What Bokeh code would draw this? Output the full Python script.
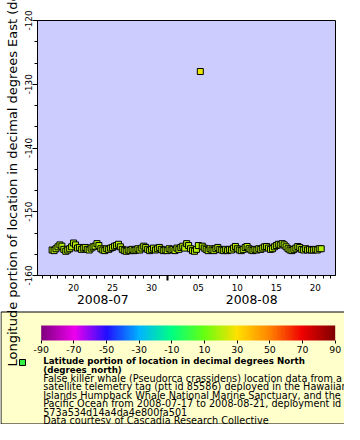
import math
import numpy as np
import pandas as pd
from bokeh.plotting import figure
from bokeh.layouts import column
from bokeh.models import (ColumnDataSource, Range1d, DatetimeAxis, FixedTicker,
                          SingleIntervalTicker, DatetimeTickFormatter, PrintfTickFormatter,
                          LinearColorMapper, ColorBar, Title)
from bokeh.core.properties import value
from bokeh.embed import file_html
from bokeh.resources import INLINE

# ---------------- data ----------------
start_time = "2008-07-17 06:00"   # first fix; fixes every 6 hours
step = "6h"

lon_by_day = [
    [-156.0, -156.1, -155.8],            # Jul 17 (06,12,18h)
    [-155.5, -155.2, -155.4, -155.9],    # Jul 18
    [-156.2, -156.0, -155.8, -155.5],    # Jul 19
    [-154.9, -155.2, -155.7, -155.6],    # Jul 20
    [-155.9, -155.7, -155.6, -155.9],    # Jul 21
    [-156.0, -155.7, -155.5, -155.4],    # Jul 22
    [-155.0, -155.3, -155.8, -156.0],    # Jul 23
    [-156.1, -155.8, -155.9, -155.7],    # Jul 24
    [-155.6, -155.4, -155.3, -155.1],    # Jul 25
    [-155.5, -155.9, -156.1, -156.2],    # Jul 26
    [-156.0, -156.1, -155.9, -156.1],    # Jul 27
    [-156.0, -155.8, -156.0, -155.7],    # Jul 28
    [-155.4, -155.6, -155.9, -156.1],    # Jul 29
    [-155.9, -155.7, -156.0, -155.8],    # Jul 30
    [-155.6, -155.9, -156.1, -156.0],    # Jul 31
    [-156.1, -155.8, -156.0, -155.9],    # Aug 1
    [-156.1, -155.7, -155.9, -155.6],    # Aug 2
    [-155.4, -155.7, -155.0, -155.3],    # Aug 3
    [-155.8, -156.1, -156.2, -155.9],    # Aug 4
    [-155.3, -128.0, -155.4, -155.7],    # Aug 5
    [-155.9, -156.1, -155.8, -156.0],    # Aug 6
    [-156.1, -155.8, -155.6, -155.9],    # Aug 7
    [-156.0, -156.1, -155.9, -156.1],    # Aug 8
    [-155.9, -156.0, -155.7, -155.45],   # Aug 9
    [-155.8, -156.0, -156.1, -155.9],    # Aug 10
    [-155.6, -155.45, -155.8, -156.0],   # Aug 11
    [-156.1, -155.9, -156.0, -155.8],    # Aug 12
    [-155.9, -155.7, -155.5, -155.45],   # Aug 13
    [-155.7, -155.9, -155.8, -155.5],    # Aug 14
    [-155.3, -155.1, -155.2, -155.0],    # Aug 15
    [-155.2, -155.5, -155.8, -156.0],    # Aug 16
    [-156.1, -155.9, -155.7, -155.45],   # Aug 17
    [-155.6, -155.9, -156.0, -155.8],    # Aug 18
    [-156.0, -155.9, -156.0, -156.0],    # Aug 19
    [-155.9, -156.0, -155.8, -155.8],    # Aug 20
]

lat_by_day = [
    [19.62, 19.58, 19.55],
    [19.50, 19.47, 19.52, 19.58],
    [19.63, 19.60, 19.55, 19.49],
    [19.42, 19.45, 19.53, 19.57],
    [19.60, 19.56, 19.52, 19.58],
    [19.64, 19.59, 19.51, 19.46],
    [19.40, 19.44, 19.52, 19.58],
    [19.62, 19.57, 19.60, 19.54],
    [19.50, 19.46, 19.44, 19.41],
    [19.47, 19.55, 19.61, 19.66],
    [19.63, 19.65, 19.58, 19.62],
    [19.60, 19.55, 19.59, 19.52],
    [19.45, 19.49, 19.56, 19.61],
    [19.58, 19.53, 19.60, 19.55],
    [19.50, 19.57, 19.63, 19.60],
    [19.62, 19.56, 19.59, 19.57],
    [19.63, 19.54, 19.58, 19.51],
    [19.46, 19.52, 19.40, 19.45],
    [19.55, 19.62, 19.66, 19.59],
    [19.47, 26.80, 19.48, 19.54],
    [19.58, 19.63, 19.56, 19.60],
    [19.62, 19.56, 19.52, 19.58],
    [19.60, 19.63, 19.58, 19.62],
    [19.58, 19.61, 19.54, 19.49],
    [19.56, 19.60, 19.63, 19.58],
    [19.52, 19.48, 19.55, 19.60],
    [19.63, 19.58, 19.61, 19.56],
    [19.58, 19.54, 19.50, 19.48],
    [19.53, 19.58, 19.55, 19.50],
    [19.45, 19.41, 19.43, 19.39],
    [19.42, 19.48, 19.55, 19.60],
    [19.63, 19.58, 19.54, 19.49],
    [19.51, 19.57, 19.60, 19.56],
    [19.60, 19.58, 19.61, 19.60],
    [19.58, 19.60, 19.56, 19.55],
]

x_start = "2008-07-15 09:00"
x_end = "2008-08-22 14:00"
y_start, y_end = -160, -120

day_label_dates = ["2008-07-20", "2008-07-25", "2008-07-30",
                   "2008-08-05", "2008-08-10", "2008-08-15", "2008-08-20"]
month_break = "2008-08-01"
month_label_dates = ["2008-07-23 18:00", "2008-08-11 20:00"]
minor_first, minor_last = "2008-07-16", "2008-08-22"

cb_ticks = [-90, -70, -50, -30, -10, 10, 30, 50, 70, 90]
cb_colors = ["#800080", "#ee00ee", "#2010ff", "#00b4ff", "#00ff80",
             "#66ff10", "#ffe000", "#ff8400", "#f00000", "#800000"]

y_title = "Longitude portion of location in decimal degrees East (degrees_east)"
legend_bold = ["Latitude portion of location in decimal degrees North",
               "(degrees_north)"]
legend_lines = [
    "False killer whale (Pseudorca crassidens) location data from a",
    "satellite telemetry tag (ptt id 85586) deployed in the Hawaiian",
    "Islands Humpback Whale National Marine Sanctuary, and the North",
    "Pacific Ocean from 2008-07-17 to 2008-08-21, deployment id",
    "573a534d14a4da4e800fa501",
    "Data courtesy of Cascadia Research Collective",
]

# ---------------- build ----------------
FONT = "DejaVu Sans"
lon = [v for d in lon_by_day for v in d]
lat = [v for d in lat_by_day for v in d]
times = pd.date_range(start_time, periods=len(lon), freq=step)
src = ColumnDataSource(dict(t=times, lon=lon, lat=lat))


def ms(s):
    return pd.Timestamp(s).value / 1e6


def hex2rgb(h):
    return [int(h[i:i + 2], 16) for i in (1, 3, 5)]


rgb = np.array([hex2rgb(c) for c in cb_colors], dtype=float)
pal = []
for g in np.linspace(-90, 90, 181):
    r, gg, b = (np.interp(g, cb_ticks, rgb[:, k]) for k in range(3))
    pal.append("#%02x%02x%02x" % (int(round(r)), int(round(gg)), int(round(b))))
mapper = LinearColorMapper(palette=pal, low=-90, high=90)

W = 344
H1, H2 = 310, 114
FL, FT, FR, FB = 37, 20, 335, 275   # frame edges (pixels) of the main plot
TITLE_START = 366                   # where the long y title begins (global px)

p = figure(width=W, height=H1, output_backend="svg", toolbar_location=None,
           x_axis_type="datetime",
           x_range=Range1d(pd.Timestamp(x_start), pd.Timestamp(x_end)),
           y_range=Range1d(y_start, y_end),
           min_border_left=FL, min_border_right=W - FR,
           min_border_top=FT, min_border_bottom=H1 - FB)
p.frame_align = False
p.background_fill_color = "#ccccff"
p.border_fill_color = "white"
p.outline_line_color = "black"
p.outline_line_alpha = 1
p.xgrid.visible = False
p.ygrid.visible = False


def fmt(f):
    return DatetimeTickFormatter(microseconds=f, milliseconds=f, seconds=f,
                                 minsec=f, minutes=f, hourmin=f, hours=f,
                                 days=f, months=f, years=f)


# axis A: daily minor ticks + thick month-break tick
ax = p.xaxis[0]
minor_days = pd.date_range(minor_first, minor_last, freq="1D")
ax.ticker = FixedTicker(ticks=[ms(month_break)],
                        minor_ticks=[ms(d) for d in minor_days])
ax.axis_line_color = "black"
ax.major_tick_line_color = "black"
ax.major_tick_line_width = 2
ax.major_tick_out = 5
ax.major_tick_in = 0
ax.minor_tick_line_color = "black"
ax.minor_tick_out = 3
ax.minor_tick_in = 0
ax.major_label_overrides = {ms(month_break): ""}
ax.major_label_text_font_size = "1px"
ax.major_label_standoff = 0

# axis B: day labels
axB = DatetimeAxis(ticker=FixedTicker(ticks=[ms(d) for d in day_label_dates], minor_ticks=[]),
                   formatter=fmt("%d"), axis_line_color=None,
                   major_tick_line_color=None, minor_tick_line_color=None,
                   major_tick_out=0, major_tick_in=0, minor_tick_out=0, minor_tick_in=0,
                   major_label_standoff=3, major_label_text_font_size="8.8px",
                   major_label_text_font=FONT, major_label_text_color="black")
p.add_layout(axB, "below")

# axis C: month labels
axC = DatetimeAxis(ticker=FixedTicker(ticks=[ms(d) for d in month_label_dates], minor_ticks=[]),
                   formatter=fmt("%Y-%m"), axis_line_color=None,
                   major_tick_line_color=None, minor_tick_line_color=None,
                   major_tick_out=0, major_tick_in=0, minor_tick_out=0, minor_tick_in=0,
                   major_label_standoff=1, major_label_text_font_size="12.4px",
                   major_label_text_font=FONT, major_label_text_color="black")
p.add_layout(axC, "below")

# y axis
ya = p.yaxis[0]
ya.ticker = SingleIntervalTicker(interval=10, num_minor_ticks=3)
ya.formatter = PrintfTickFormatter(format="%d")
ya.axis_line_color = "black"
ya.major_tick_line_color = "black"
ya.minor_tick_line_color = "black"
ya.major_tick_out = 5
ya.major_tick_in = 0
ya.minor_tick_out = 3
ya.minor_tick_in = 0
ya.major_label_orientation = "vertical"
ya.major_label_standoff = 1
ya.major_label_text_font = FONT
ya.major_label_text_font_size = "8.8px"
ya.major_label_text_color = "black"

# y axis title (long, runs below the plot as in the original)
p.add_layout(Title(text=y_title, align="left", offset=FB - TITLE_START, standoff=4,
                   vertical_align="bottom",
                   text_font=FONT, text_font_size="13px", text_font_style="normal",
                   text_color="black"), "left")

# data
p.scatter(x="t", y="lon", source=src, marker="square", size=6,
          fill_color={"field": "lat", "transform": mapper},
          line_color="black", line_width=1)

# ---------------- legend panel ----------------
p2 = figure(width=W, height=H2, output_backend="svg", toolbar_location=None,
            x_range=Range1d(0, W), y_range=Range1d(H2, 0),
            min_border=0, x_axis_location=None, y_axis_location=None)
p2.frame_align = False
p2.xgrid.visible = False
p2.ygrid.visible = False
p2.outline_line_color = None
p2.background_fill_color = "white"
p2.border_fill_color = "white"

p2.quad(left=0.5, right=W + 20, top=1.5, bottom=H2 - 0.5,
        fill_color="#ffffcc", line_color="black", line_width=1)

cb = ColorBar(color_mapper=mapper, orientation="horizontal",
              location=(40.7, H2 - 45), width=294, height=15,
              padding=0, margin=0,
              ticker=FixedTicker(ticks=cb_ticks),
              formatter=PrintfTickFormatter(format="%d"),
              major_tick_out=3, major_tick_in=0, major_tick_line_color="black",
              minor_tick_line_color=None, label_standoff=2,
              major_label_text_font=FONT, major_label_text_font_size="9.4px",
              major_label_text_color="black",
              bar_line_color=None, border_line_color=None,
              background_fill_color=None)
p2.add_layout(cb)

p2.scatter(x=[22], y=[52], marker="square", size=6, fill_color="#33ee44",
           line_color="black", line_width=1)

p2.text(x=[42.7] * 2, y=[50.8, 59.3], text=legend_bold,
        text_font=value(FONT), text_font_style="bold", text_font_size=value("8.7px"),
        text_baseline="middle", text_align="left", text_color="black")
p2.text(x=[42.7] * 6, y=[67.8, 76.3, 84.8, 93.3, 101.8, 110.2], text=legend_lines,
        text_font=value(FONT), text_font_size=value("9.7px"),
        text_baseline="middle", text_align="left", text_color="black")

# continuation of the y-axis title into the legend area
p2.text(x=[19], y=[TITLE_START - H1], text=[y_title], angle=math.pi / 2,
        text_font=value(FONT), text_font_size=value("13px"),
        text_baseline="bottom", text_align="left", text_color="black")

layout = column(p, p2, spacing=0)
open("out.html", "w").write(file_html(layout, INLINE))
